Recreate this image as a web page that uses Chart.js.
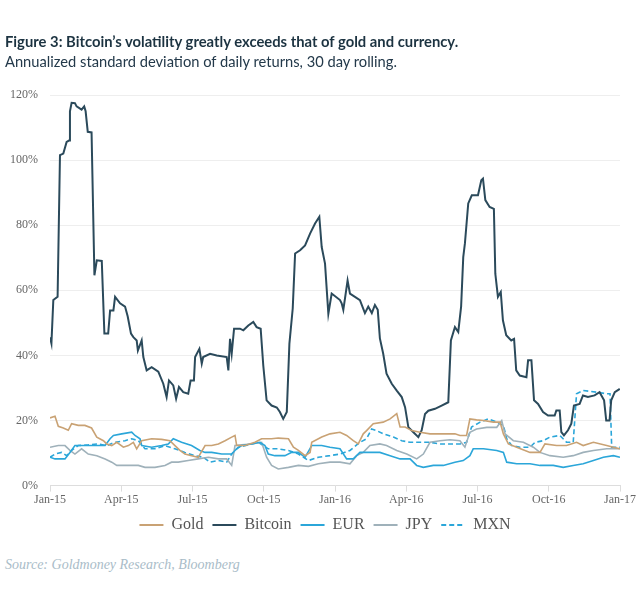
<!DOCTYPE html>
<html>
<head>
<meta charset="utf-8">
<script src="https://cdn.jsdelivr.net/npm/chart.js@4.4.1/dist/chart.umd.min.js"></script>
<style>
  body { margin: 0; background: #fff; }
  #wrap { position: relative; width: 640px; height: 605px; }
  #title { position: absolute; left: 5px; top: 32px; font: 700 14.8px "Lato"; color: #1c3341; white-space: nowrap; }
  #subtitle { position: absolute; left: 5px; top: 52px; font: 400 14.7px "Lato"; color: #23394a; white-space: nowrap; }
  #source { position: absolute; left: 5px; top: 557px; font: italic 14px "Liberation Serif"; color: #a9bcc8; white-space: nowrap; }
  #box { position: absolute; left: 0; top: 0; width: 640px; height: 543px; }
</style>
</head>
<body>
<div id="wrap">
  <div id="box"><canvas id="chart_1"></canvas></div>
  <div id="title">Figure 3: Bitcoin’s volatility greatly exceeds that of gold and currency.</div>
  <div id="subtitle">Annualized standard deviation of daily returns, 30 day rolling.</div>
  <div id="source">Source: Goldmoney Research, Bloomberg</div>
</div>
<script>
// x = months since Jan-15, y = volatility in %
var tickLabels = ["Jan-15", "Apr-15", "Jul-15", "Oct-15", "Jan-16", "Apr-16", "Jul-16", "Oct-16", "Jan-17"];
var seriesNames = ["Gold", "Bitcoin", "EUR", "JPY", "MXN"];

var gold = [[0,20.8],[0.21,21.3],[0.35,18.2],[0.56,17.7],[0.77,17],[0.91,19],[1.19,18.5],[1.47,18.5],[1.75,17.7],[1.97,14.9],[2.25,13.8],[2.39,12.8],[2.6,12.3],[2.81,13.3],[3.09,11.8],[3.3,12.3],[3.51,13.3],[3.65,11.3],[3.86,13.8],[4.28,14.4],[4.7,14.2],[5.05,13.8],[5.26,12.3],[5.47,10.8],[5.68,9.7],[5.96,9.2],[6.24,8.7],[6.53,12.3],[6.81,12.3],[7.09,12.8],[7.37,13.8],[7.65,14.9],[7.79,15.4],[7.86,12.3],[8.21,12.3],[8.63,13.3],[8.91,14.4],[9.33,14.4],[9.61,14.6],[10.04,14.4],[10.25,11.8],[10.46,10.8],[10.74,9.2],[10.95,10.2],[11.02,13.3],[11.44,14.9],[11.79,15.9],[12.21,16.4],[12.49,15.4],[12.77,13.8],[12.98,12.8],[13.19,15.9],[13.33,16.9],[13.61,19],[14.03,19.5],[14.32,20.5],[14.6,22.1],[14.74,18],[14.95,18],[15.23,16.9],[15.58,16.4],[16,15.9],[16.56,15.9],[17.05,15.9],[17.26,15.4],[17.54,15.4],[17.68,20.5],[17.96,20.2],[18.25,20],[18.67,19.5],[18.95,19.5],[19.09,15.9],[19.3,12.8],[19.65,11.8],[20.21,10.2],[20.63,10.2],[20.84,12.8],[21.33,12.3],[21.75,12.3],[22.17,13.3],[22.45,12.3],[22.88,13.3],[23.44,12.3],[23.72,11.8],[24,11.3]];

var bitcoin = [[0,45.6],[0.06,43.7],[0.14,57],[0.32,58],[0.42,101.5],[0.56,102],[0.7,105.6],[0.8,106],[0.84,115],[0.91,117.6],[1.05,117.5],[1.12,116.5],[1.33,115.5],[1.44,116.5],[1.5,115],[1.59,108.7],[1.75,108.5],[1.87,64.6],[1.97,69.2],[2.18,69],[2.29,46.7],[2.45,46.7],[2.53,53.8],[2.67,53.8],[2.74,58],[2.95,56],[3.16,55],[3.27,52],[3.41,46.7],[3.51,45.6],[3.65,44.6],[3.7,41.5],[3.86,44.6],[3.93,39.5],[4.07,35.4],[4.28,36.4],[4.56,35],[4.77,31.3],[4.91,27.2],[5.01,32.3],[5.19,30.8],[5.31,26.7],[5.43,30.3],[5.61,28.7],[5.82,28.2],[5.92,32.3],[6.06,32.3],[6.11,39.5],[6.29,42],[6.39,37.5],[6.45,39.5],[6.74,40.5],[7.02,40],[7.44,39.5],[7.51,35.4],[7.58,45.1],[7.65,40.5],[7.75,48.2],[8,48.2],[8.14,47.7],[8.35,49.2],[8.56,50.3],[8.7,48.7],[8.87,48.2],[8.98,36.9],[9.12,26.2],[9.33,24.6],[9.55,24],[9.68,22.6],[9.82,20.5],[9.97,22.6],[10.08,43.6],[10.22,54.4],[10.32,71.3],[10.53,72.3],[10.74,73.8],[10.95,77.4],[11.16,80.5],[11.34,82.6],[11.44,73.3],[11.58,68.2],[11.72,52.8],[11.86,59],[12.21,57],[12.28,56],[12.35,54],[12.53,63],[12.63,59],[12.84,58],[13.05,57],[13.26,53],[13.4,55],[13.55,53],[13.68,55.5],[13.8,54],[13.89,45.2],[14.03,40.5],[14.17,34.4],[14.39,31.3],[14.6,29.2],[14.81,27.2],[14.95,24.1],[15.09,17.9],[15.3,16.4],[15.51,14.9],[15.65,17],[15.79,22],[15.93,23],[16.21,23.6],[16.49,24.6],[16.77,25.6],[16.88,44.6],[17.05,48.7],[17.19,47.2],[17.31,55],[17.4,70.2],[17.47,74.4],[17.61,86.7],[17.76,89.2],[18.02,89.2],[18.16,93.8],[18.23,94.3],[18.33,87.7],[18.51,85.6],[18.69,85],[18.75,65.1],[18.86,58],[18.98,59.5],[19.07,50.8],[19.21,46.2],[19.42,44.6],[19.54,45.1],[19.63,35.4],[19.78,33.8],[20.06,33.3],[20.13,38.5],[20.27,38.5],[20.38,26.2],[20.55,25.1],[20.76,22.6],[20.97,21.5],[21.25,21.5],[21.32,23.1],[21.46,23.1],[21.53,16.4],[21.64,15.4],[21.81,17],[21.95,19],[22.06,24.6],[22.3,25.1],[22.44,27.7],[22.65,27.2],[22.93,27.7],[23.14,28.7],[23.33,26.2],[23.42,20],[23.56,20],[23.63,26.2],[23.78,28.7],[23.99,29.7]];

var eur = [[0,8.7],[0.21,8.2],[0.63,8.2],[0.84,10.2],[1.05,12.3],[1.47,12.3],[1.89,12.3],[2.32,12.3],[2.53,14.4],[2.67,15.4],[3.02,15.9],[3.44,16.4],[3.58,15.4],[3.79,14.4],[3.86,12.3],[4.28,11.8],[4.7,12.3],[4.98,12.8],[5.19,14.4],[5.54,13.3],[5.96,12.3],[6.31,10.8],[6.53,10.2],[6.81,10.2],[7.23,9.7],[7.65,9.7],[7.86,11.3],[8.07,12.3],[8.49,12.8],[8.84,13.3],[9.05,12.3],[9.19,9.7],[9.47,9.2],[9.89,9.2],[10.18,10.2],[10.46,10.2],[10.74,8.7],[11.02,12.3],[11.44,12.3],[11.79,11.8],[12.21,11.3],[12.49,8.2],[12.77,8.2],[13.05,10.2],[13.47,10.2],[13.89,10.2],[14.32,9.2],[14.74,8.2],[15.16,8.2],[15.44,6.2],[15.72,5.6],[16.14,6.2],[16.56,6.2],[17.05,7.2],[17.4,7.7],[17.68,9.2],[17.82,11.3],[18.25,11.3],[18.81,10.8],[19.09,10.2],[19.23,7.2],[19.65,6.7],[20.21,6.7],[20.63,6.2],[21.19,6.2],[21.61,5.6],[22.03,6.2],[22.45,6.7],[22.88,7.7],[23.3,8.7],[23.72,9.2],[24,8.7]];

var jpy = [[0,11.8],[0.35,12.3],[0.63,12.3],[0.84,10.8],[1.05,9.7],[1.33,11.3],[1.61,9.7],[1.97,9.2],[2.32,8.2],[2.6,7.2],[2.81,6.2],[3.3,6.2],[3.72,6.2],[4,5.6],[4.42,5.6],[4.84,6.2],[5.12,7.2],[5.4,7.2],[5.82,7.7],[6.24,8.2],[6.67,8.7],[7.09,8.2],[7.44,8.2],[7.65,6.2],[7.79,12.3],[8.07,12.5],[8.49,12.8],[8.91,13.3],[9.12,8.7],[9.33,6.2],[9.61,5.1],[10.04,5.6],[10.46,6.2],[10.88,5.9],[11.3,6.7],[11.79,7.2],[12.21,7.2],[12.63,6.7],[12.91,9.2],[13.19,10.2],[13.47,12.3],[13.89,12.8],[14.17,12.3],[14.6,10.8],[15.02,9.7],[15.44,8.2],[15.72,9.7],[16,13.3],[16.42,13.8],[16.84,14.1],[17.26,13.8],[17.47,11.8],[17.68,16.4],[17.96,17.4],[18.39,17.9],[18.81,17.9],[19.02,20],[19.16,15.9],[19.51,13.8],[19.93,13.3],[20.35,11.8],[20.63,10.2],[21.05,9.2],[21.61,8.7],[22.03,9.2],[22.45,10.2],[22.88,10.8],[23.44,11.3],[24,11.3]];

var mxn = [[0,8.7],[0.21,9.7],[0.49,10.2],[0.7,9.2],[0.91,10.8],[1.19,12.3],[1.61,12.5],[2.04,12.8],[2.39,12.3],[2.74,13.3],[3.16,13.8],[3.44,14.4],[3.72,13.8],[4,11.3],[4.42,11.3],[4.84,12.3],[5.26,11.3],[5.68,10.2],[6.11,9.2],[6.46,8.7],[6.74,7.2],[7.09,7.7],[7.44,7.2],[7.65,9.7],[7.93,11.8],[8.35,12.5],[8.77,13.3],[9.19,11.3],[9.61,11.3],[10.04,10.8],[10.46,9.7],[10.88,7.7],[11.3,8.7],[11.79,9.2],[12.21,9.7],[12.63,10.8],[13.05,13.3],[13.33,14.4],[13.54,17.4],[13.75,16.9],[14.03,15.9],[14.46,14.9],[14.81,13.8],[15.16,13.3],[15.58,13.3],[16,13.3],[16.42,12.8],[16.84,12.8],[17.26,12.8],[17.54,13.3],[17.75,18],[18.11,19.5],[18.46,20.5],[18.81,19.5],[19.09,18.5],[19.23,14.4],[19.44,12.3],[19.79,11.8],[20.21,11.8],[20.42,13.3],[20.77,13.8],[21.05,14.9],[21.47,15.4],[21.75,13.3],[22.03,13.3],[22.17,28.2],[22.45,29.2],[23.02,28.7],[23.44,28.2],[23.58,28.2],[23.65,11.8],[24,11.8]];

function toPoints(arr) {
  return arr.map(function (p) { return { x: p[0], y: p[1] }; });
}

const ctxval1 = document.getElementById("chart_1");

var myChart1 = new Chart(ctxval1, {
  type: "line",
  data: {
    datasets: [
      { label: seriesNames[0], data: toPoints(gold), borderColor: "#c9a274", backgroundColor: "#c9a274", borderWidth: 1.6 },
      { label: seriesNames[1], data: toPoints(bitcoin), borderColor: "#2b4a5b", backgroundColor: "#2b4a5b", borderWidth: 2 },
      { label: seriesNames[2], data: toPoints(eur), borderColor: "#2ba6d9", backgroundColor: "#2ba6d9", borderWidth: 1.6 },
      { label: seriesNames[3], data: toPoints(jpy), borderColor: "#9fb1ba", backgroundColor: "#9fb1ba", borderWidth: 1.6 },
      { label: seriesNames[4], data: toPoints(mxn), borderColor: "#2ba6d9", backgroundColor: "#2ba6d9", borderWidth: 1.6, borderDash: [5, 3] },
    ],
  },
  options: {
    responsive: true,
    maintainAspectRatio: false,
    animation: false,
    elements: {
      point: { radius: 0 },
      line: { tension: 0 },
    },
    layout: {
      padding: { top: 95, right: 20, left: 0, bottom: 0 },
    },
    plugins: {
      tooltip: { enabled: false },
      //LEGEND
      legend: {
        display: true,
        position: "bottom",
        align: "center",
        labels: {
          usePointStyle: true,
          pointStyle: "line",
          pointStyleWidth: 24,
          padding: 9,
          color: "#555",
          font: { size: 16, family: "Liberation Serif" },
          //line legend boxes keep the dataset dash
          generateLabels: function (chart) {
            var items = Chart.defaults.plugins.legend.labels.generateLabels(chart);
            items.forEach(function (item) {
              var ds = chart.data.datasets[item.datasetIndex];
              item.lineDash = ds.borderDash || [];
              item.lineWidth = 2;
              item.strokeStyle = ds.borderColor;
            });
            return items;
          },
        },
      },
    },
    //SCALES
    scales: {
      x: {
        type: "linear",
        min: 0,
        max: 24,
        grid: { drawOnChartArea: false, drawTicks: true, tickLength: 6, color: "#dddddd" },
        border: { color: "#dddddd" },
        ticks: {
          stepSize: 3,
          padding: 1,
          maxRotation: 0,
          color: "#666",
          font: { family: "Liberation Serif", size: 12 },
          callback: function (value) {
            return tickLabels[value / 3];
          },
        },
      },
      y: {
        min: 0,
        max: 120,
        afterFit: function (scale) { scale.width = 50; },
        grid: { color: "#eeeeee", drawTicks: false },
        border: { display: false },
        ticks: {
          stepSize: 20,
          padding: 12,
          color: "#666",
          font: { family: "Liberation Serif", size: 12 },
          callback: function (value) {
            return value + "%";
          },
        },
      },
    },
  },
  plugins: [
    //Nudge the legend a bit to the right, like the original
    {
      id: "legendShift",
      afterLayout: (chart) => {
        if (chart.legend) {
          chart.legend.left += 15;
          chart.legend.right += 15;
        }
      },
    },
  ],
});
</script>
</body>
</html>
